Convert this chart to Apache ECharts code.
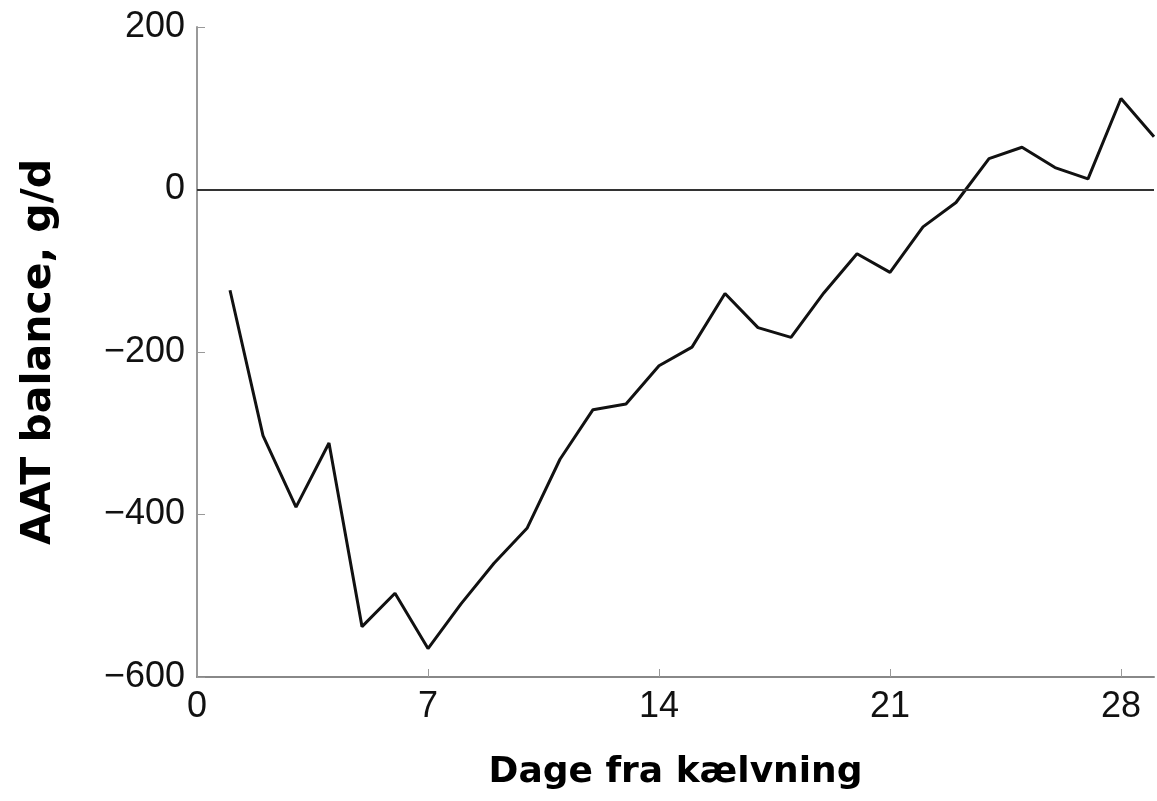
<!DOCTYPE html>
<html>
<head>
<meta charset="utf-8">
<script src="https://cdn.jsdelivr.net/npm/echarts@6/dist/echarts.min.js"></script>
<style>html,body{margin:0;padding:0;background:#fff;overflow:hidden}#c{width:1157px;height:801px}</style>
</head>
<body>
<div id="c"></div>
<script>
var days = [1,2,3,4,5,6,7,8,9,10,11,12,13,14,15,16,17,18,19,20,21,22,23,24,25,26,27,28,29];
var aatBalance = [-124,-303,-391,-312,-538,-497,-565,-510,-460,-417,-332,-271,-264,-217,-194,-128,-170,-182,-127,-79,-102,-46,-16,38,52,27,13,112,65];
var xTicks = [0,7,14,21,28];
var yTicks = [-600,-400,-200,0,200];

var chart = echarts.init(document.getElementById('c'));
var titleFont = '"DejaVu Sans", sans-serif';
var labelFont = '"Liberation Sans", Arial, sans-serif';
chart.setOption({
  animation: false,
  grid: {left: 197, right: 3, top: 27, bottom: 124, outerBoundsMode: 'none', containLabel: false},
  xAxis: {
    type: 'value', min: 0, max: 29, interval: 7,
    name: 'Dage fra kælvning', nameLocation: 'middle', nameGap: 78,
    nameTextStyle: {fontSize: 36, fontWeight: 'bold', color: '#000', fontFamily: titleFont},
    axisLine: {onZero: false, lineStyle: {color: '#888', width: 2}},
    axisTick: {inside: true, length: 8, lineStyle: {color: '#999', width: 1}},
    axisLabel: {fontSize: 36, color: '#111', margin: 12, fontFamily: labelFont, showMaxLabel: false,
      formatter: function(v){ return xTicks.indexOf(v) >= 0 ? String(v) : ''; }},
    splitLine: {show: false}
  },
  yAxis: {
    type: 'value', min: -600, max: 200, interval: 200,
    name: 'AAT balance, g/d', nameLocation: 'middle', nameGap: 158,
    nameTextStyle: {fontSize: 41, fontWeight: 'bold', color: '#000', fontFamily: titleFont, verticalAlign: 'middle'},
    axisLine: {show: true, onZero: false, lineStyle: {color: '#999', width: 2}},
    axisTick: {show: true, inside: true, length: 8, lineStyle: {color: '#999', width: 1}},
    axisLabel: {fontSize: 36, color: '#111', margin: 12, fontFamily: labelFont,
      formatter: function(v){ return yTicks.indexOf(v) >= 0 ? String(v).replace('-', '\u2212') : ''; }},
    splitLine: {show: false}
  },
  series: [{
    type: 'line',
    data: days.map(function(d, i){ return [d, aatBalance[i]]; }),
    symbol: 'none',
    lineStyle: {color: '#111', width: 3},
    markLine: {
      silent: true, symbol: 'none', label: {show: false},
      lineStyle: {color: '#333', width: 2, type: 'solid'},
      data: [{yAxis: 0}]
    }
  }]
});
</script>
</body>
</html>
